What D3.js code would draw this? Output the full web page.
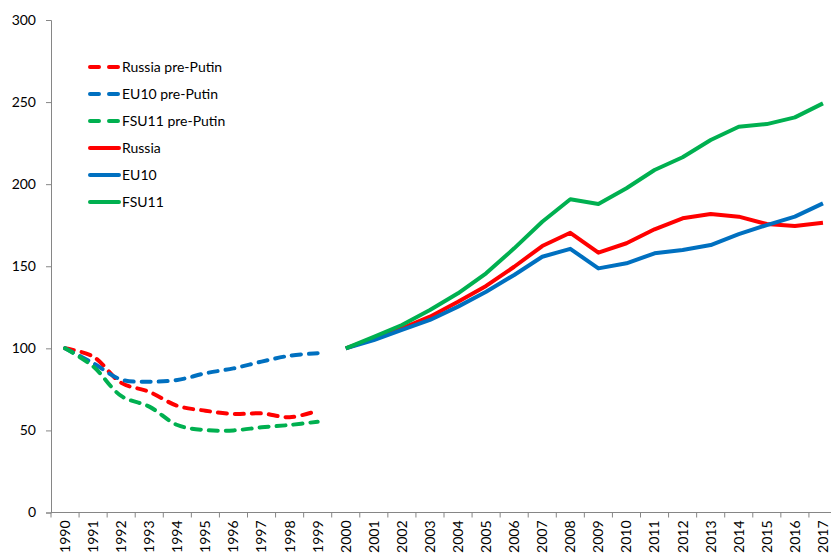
<!DOCTYPE html>
<meta charset="utf-8">
<style>
html, body {
  margin: 0;
  overflow: hidden;
  width: 100%;
  height: 100%;
  background: #fff;
}
svg text {
  font-family: Lato, "Open Sans", sans-serif;
  fill: #000;
}
</style>
<body>
<script src="https://cdn.jsdelivr.net/npm/d3@7"></script>
<script>
var years = d3.range(1990, 2018).map(String);
var preYears = years.slice(0, 10);
var postYears = years.slice(10);

var russiaPre = [100, 95, 79, 73.5, 65, 62, 60, 60.4, 58, 62];
var eu10Pre   = [100, 91, 81, 79.7, 80.7, 84.8, 87.8, 91.9, 95.5, 97];
var fsu11Pre  = [100, 89, 71, 64.5, 53.3, 50.2, 50, 51.9, 53.3, 55.3];

var russia = [100, 106, 112.2, 119.3, 128.4, 138, 149.7, 162.3, 170.4, 158.3, 164, 172.5, 179.2, 181.8, 180.2, 175.7, 174.5, 176.5];
var eu10   = [100, 105, 111.2, 117.3, 125.4, 134.5, 144.7, 155.8, 160.6, 148.7, 151.8, 157.9, 159.9, 162.9, 169.6, 175.1, 180.2, 188.3];
var fsu11  = [100, 107, 114.2, 123.3, 133.5, 145.7, 160.9, 177.1, 190.8, 187.9, 197.5, 208.6, 216.4, 226.9, 235, 236.6, 240.7, 249.2];

var yTicks = [0, 50, 100, 150, 200, 250, 300];

var red = "#ff0000", blue = "#0070c0", green = "#00b050";

var series = [
  {name: "Russia pre-Putin", x: preYears, v: russiaPre, color: red, dash: true},
  {name: "EU10 pre-Putin", x: preYears, v: eu10Pre, color: blue, dash: true},
  {name: "FSU11 pre-Putin", x: preYears, v: fsu11Pre, color: green, dash: true},
  {name: "Russia", x: postYears, v: russia, color: red, dash: false},
  {name: "EU10", x: postYears, v: eu10, color: blue, dash: false},
  {name: "FSU11", x: postYears, v: fsu11, color: green, dash: false}
];

var width = 831, height = 557;
var plotLeft = 51, plotTop = 20, plotBottom = 512.5, plotRight = 837;

var svg = d3.select("body").append("svg")
    .attr("width", width)
    .attr("height", height);

var x = d3.scaleBand().domain(years).range([plotLeft, plotRight]);
var y = d3.scaleLinear().domain([0, 300]).range([plotBottom, plotTop]);

var axisColor = "#868686";

// y axis
var yAxis = svg.append("g").attr("transform", "translate(" + plotLeft + ",0)")
    .call(d3.axisLeft(y).tickValues(yTicks).tickSize(5).tickPadding(10));
yAxis.select(".domain").attr("stroke", axisColor);
yAxis.selectAll(".tick line").attr("stroke", axisColor);
yAxis.selectAll(".tick text").style("font-size", "14px").style("font-family", "Lato, sans-serif");

// x axis (ticks on category boundaries)
var xg = svg.append("g");
xg.append("line")
    .attr("x1", plotLeft).attr("x2", plotRight)
    .attr("y1", plotBottom).attr("y2", plotBottom)
    .attr("stroke", axisColor);
xg.selectAll(".xt").data(years.concat(["end"])).enter().append("line")
    .attr("x1", function(d, i) { return plotLeft + i * x.bandwidth(); })
    .attr("x2", function(d, i) { return plotLeft + i * x.bandwidth(); })
    .attr("y1", plotBottom).attr("y2", plotBottom + 5)
    .attr("stroke", axisColor);
xg.selectAll(".xl").data(years).enter().append("text")
    .attr("transform", function(d) {
      return "translate(" + (x(d) + x.bandwidth() / 2) + "," + (plotBottom + 8) + ") rotate(-90)";
    })
    .attr("text-anchor", "end")
    .attr("dy", "0.35em")
    .style("font-size", "14px")
    .text(function(d) { return d; });

// lines
var lineFor = function(s) {
  return d3.line()
    .x(function(d, i) { return x(s.x[i]) + x.bandwidth() / 2; })
    .y(function(d) { return y(d); })
    .curve(s.dash ? d3.curveCatmullRom.alpha(0.5) : d3.curveLinear);
};

series.forEach(function(s) {
  svg.append("path")
    .datum(s.v)
    .attr("d", lineFor(s))
    .attr("fill", "none")
    .attr("stroke", s.color)
    .attr("stroke-width", 4)
    .attr("stroke-linejoin", "round")
    .attr("stroke-linecap", s.dash ? "round" : "butt")
    .attr("stroke-dasharray", s.dash ? "9,8" : null);
});

// legend
var legend = svg.append("g");
series.forEach(function(s, i) {
  var ly = 67 + i * 27;
  legend.append("line")
    .attr("x1", 90).attr("x2", 119)
    .attr("y1", ly).attr("y2", ly)
    .attr("stroke", s.color)
    .attr("stroke-width", 4)
    .attr("stroke-linecap", "round")
    .attr("stroke-dasharray", s.dash ? "9,10" : null);
  legend.append("text")
    .attr("x", 122).attr("y", ly)
    .attr("dy", "0.35em")
    .style("font-size", "14px")
    .text(s.name);
});
</script>
</body>
